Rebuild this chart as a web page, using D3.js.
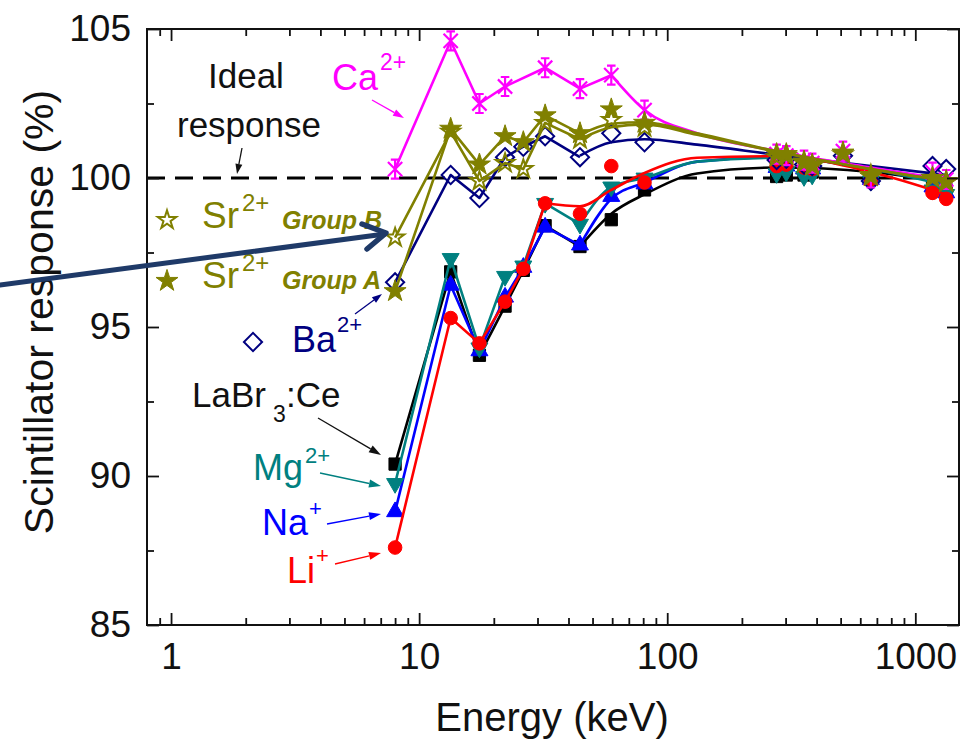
<!DOCTYPE html>
<html><head><meta charset="utf-8">
<script src="https://cdn.jsdelivr.net/npm/d3@7"></script>
<style>
body{margin:0;background:#fff}
svg{display:block}
text{font-family:"Liberation Sans",Arial,Helvetica,sans-serif}
</style>
</head><body>
<svg id="c" width="970" height="742"></svg>
<script>
// ---------- data ----------
const energiesLow = [8.0, 13.4, 17.5, 22.2, 26.3, 32.2, 44.5, 59.5, 81.0];
const energiesCa = [8.0, 13.4, 17.5, 22.2, 32.2, 44.5, 59.5, 81.0];
const energiesHigh = [276, 302, 356, 384, 511, 662, 1173, 1332];
const energiesHighNo511 = [276, 302, 356, 384, 662, 1173, 1332];
const fitEnergies = [44.5, 59.5, 81, 132, 276, 662, 1332];
const fitEnergiesCa = [59.5, 81, 132, 276, 662, 1332];
const fitEnergiesLi = [32.2, 44.5, 59.5, 81, 132, 276, 662, 1332];

const caLow  = [100.3, 104.6, 102.5, 103.07, 103.7, 103.0, 103.45, 102.28];
const caHigh = [100.8, 100.75, 100.6, 100.5, 100.9, 100.0, 100.2, 99.95];
const caFit  = [103.45, 102.28, 101.5, 100.9, 100.35, 99.95];

const srALow  = [96.2, 101.65, 100.45, 101.4, 101.2, 102.1, 101.5, 102.3, 101.85];
const srAHigh = [100.8, 100.8, 100.55, 100.45, 100.85, 100.05, 100.0, 99.85];
const srAFit  = [101.45, 101.82, 101.87, 101.5, 100.9, 100.3, 99.9];

const srBLow  = [98.0, 101.55, 99.9, 100.5, 100.3, 101.85, 101.3, 101.95, 101.7];
const srBHigh = [100.7, 100.75, 100.5, 100.4, 100.8, 100.1, 100.0, 99.9];
const srBFit  = [101.3, 101.7, 101.8, 101.45, 100.88, 100.3, 99.9];

const baLow  = [96.5, 100.1, 99.33, 100.7, 101.05, 101.4, 100.7, 101.5, 101.2];
const baHigh = [100.6, 100.65, 100.45, 100.4, 100.75, 99.9, 100.4, 100.3];
const baFit  = [100.75, 101.2, 101.3, 101.12, 100.78, 100.4, 100.1];

const labrLow  = [90.4, 96.85, 94.05, 95.7, 96.9, 98.4, 97.7, 98.6, 99.6];
const labrHigh = [100.05, 100.1, 100.1, 100.2, 100.0, 99.8, 99.6];
const labrFit  = [97.7, 98.8, 99.45, 100.15, 100.35, 100.2, 99.85];

const naLow  = [88.8, 96.4, 94.2, 96.0, 97.0, 98.35, 97.75, 99.38, 99.8];
const naHigh = [100.35, 100.4, 100.3, 100.3, 99.95, 99.7, 99.5];
const naFit  = [97.75, 99.3, 99.85, 100.55, 100.7, 100.3, 99.8];

const mgLow  = [89.75, 97.3, 94.3, 96.7, 97.05, 99.15, 98.45, 99.7, 100.0];
const mgHigh = [100.15, 100.2, 100.05, 100.1, 99.9, 99.6, 99.45];
const mgFit  = [98.45, 99.7, 100.0, 100.55, 100.68, 100.3, 99.75];

const liLow  = [87.6, 95.3, 94.45, 95.85, 96.95, 99.15, 98.8, 100.4, 99.85];
const liHigh = [100.4, 100.45, 100.35, 100.3, 99.95, 99.5, 99.3];
const liFit  = [99.15, 99.05, 99.6, 100.17, 100.68, 100.73, 100.2, 99.45];

const idealResponse = 100;
const xMajorTicks = [1, 10, 100, 1000];
const xMinorTicks = [0.9, 2,3,4,5,6,7,8,9, 20,30,40,50,60,70,80,90, 200,300,400,500,600,700,800,900];
const yMajorTicks = [85, 90, 95, 100, 105];
const yMinorTicks = [87.5, 92.5, 97.5, 102.5];

// ---------- layout ----------
const svg = d3.select("#c");
const L = 147, R = 959, T = 29, B = 625;
const x = d3.scaleLog().domain([0.8, 1500]).range([L, R]);
const y = d3.scaleLinear().domain([85, 105]).range([B, T]);

const C = {ca:"#ff00ff", sr:"#808000", ba:"#000080", labr:"#000000", na:"#0000ff", mg:"#008080", li:"#ff0000"};

// ideal response dashed line
svg.append("line")
  .attr("x1", L).attr("x2", R).attr("y1", y(idealResponse)).attr("y2", y(idealResponse))
  .attr("stroke", "#000").attr("stroke-width", 3).attr("stroke-dasharray", "18,10");

// symbol helpers
function symPath(type, size) {
  const m = {square:d3.symbolSquare, circle:d3.symbolCircle, triangle:d3.symbolTriangle, star:d3.symbolStar, diamond:d3.symbolSquare, tridown:d3.symbolTriangle};
  return d3.symbol().type(m[type]).size(size)();
}
function drawMarker(g, type, cx, cy, color) {
  if (type === "asterisk") {
    const r = 9.5;
    const p = `M0,${-r}L0,${r}M${-r*0.75},${-r*0.75}L${r*0.75},${r*0.75}M${-r*0.75},${r*0.75}L${r*0.75},${-r*0.75}M${-r*0.45},${-r}L${r*0.45},${-r}M${-r*0.45},${r}L${r*0.45},${r}`;
    g.append("path").attr("d", p).attr("transform", `translate(${cx},${cy})`)
      .attr("stroke", color).attr("stroke-width", 2.2).attr("fill", "none");
    return;
  }
  const sizes = {square:150, circle:145, triangle:125, tridown:125, star:150, ostar:105, diamond:165};
  const base = type === "ostar" ? "star" : type;
  let tr = `translate(${cx},${cy})`;
  if (type === "diamond") tr += " rotate(45)";
  if (type === "tridown") tr += " rotate(180)";
  const open = (type === "ostar" || type === "diamond");
  g.append("path").attr("d", symPath(base, sizes[type])).attr("transform", tr)
    .attr("fill", open ? "#fff" : color).attr("fill-opacity", open ? 0 : 1)
    .attr("stroke", color).attr("stroke-width", open ? 2 : 1);
}

const series = [
  {color:C.labr, sym:"square",  lowE:energiesLow, low:labrLow, highE:energiesHighNo511, high:labrHigh, fitE:fitEnergies, fit:labrFit},
  {color:C.na,   sym:"triangle",lowE:energiesLow, low:naLow,   highE:energiesHighNo511, high:naHigh,   fitE:fitEnergies, fit:naFit},
  {color:C.mg,   sym:"tridown", lowE:energiesLow, low:mgLow,   highE:energiesHighNo511, high:mgHigh,   fitE:fitEnergies, fit:mgFit},
  {color:C.li,   sym:"circle",  lowE:energiesLow, low:liLow,   highE:energiesHighNo511, high:liHigh,   fitE:fitEnergiesLi, fit:liFit},
  {color:C.ba,   sym:"diamond", lowE:energiesLow, low:baLow,   highE:energiesHigh, high:baHigh, fitE:fitEnergies, fit:baFit},
  {color:C.ca,   sym:"asterisk",lowE:energiesCa,  low:caLow,   highE:energiesHigh, high:caHigh, fitE:fitEnergiesCa, fit:caFit},
  {color:C.sr,   sym:"ostar",   lowE:energiesLow, low:srBLow,  highE:energiesHigh, high:srBHigh, fitE:fitEnergies, fit:srBFit},
  {color:C.sr,   sym:"star",    lowE:energiesLow, low:srALow,  highE:energiesHigh, high:srAHigh, fitE:fitEnergies, fit:srAFit}
];

const lineLin = d3.line().x(d => x(d[0])).y(d => y(d[1]));
const lineSmooth = d3.line().x(d => x(d[0])).y(d => y(d[1])).curve(d3.curveMonotoneX);

series.forEach(s => {
  const g = svg.append("g");
  const breakE = s.fitE[0];
  const seg = s.lowE.map((e, i) => [e, s.low[i]]).filter(d => d[0] <= breakE);
  g.append("path").attr("d", lineLin(seg)).attr("fill", "none")
    .attr("stroke", s.color).attr("stroke-width", 2.6).attr("stroke-linejoin", "round");
  const fit = s.fitE.map((e, i) => [e, s.fit[i]]);
  g.append("path").attr("d", lineSmooth(fit)).attr("fill", "none")
    .attr("stroke", s.color).attr("stroke-width", 2.6);
  s.lowE.forEach((e, i) => drawMarker(g, s.sym, x(e), y(s.low[i]), s.color));
  s.highE.forEach((e, i) => drawMarker(g, s.sym, x(e), y(s.high[i]), s.color));
});

// ---------- axes ----------
function styleAxis(g) {
  g.select(".domain").remove();
  g.selectAll(".tick line").attr("stroke", "#111").attr("stroke-width", 1.8);
  g.selectAll("text").attr("font-size", 37).attr("fill", "#111")
    .style("font-family", '"Liberation Sans",Arial,sans-serif');
}
svg.append("g").attr("transform", `translate(0,${B})`)
  .call(d3.axisBottom(x).tickValues(xMajorTicks).tickFormat(d3.format("d")).tickSize(-12).tickPadding(18)).call(styleAxis);
svg.append("g").attr("transform", `translate(0,${B})`)
  .call(d3.axisBottom(x).tickValues(xMinorTicks).tickFormat("").tickSize(-7)).call(styleAxis);
svg.append("g").attr("transform", `translate(0,${T})`)
  .call(d3.axisTop(x).tickValues(xMajorTicks).tickFormat("").tickSize(-12)).call(styleAxis);
svg.append("g").attr("transform", `translate(0,${T})`)
  .call(d3.axisTop(x).tickValues(xMinorTicks).tickFormat("").tickSize(-7)).call(styleAxis);
svg.append("g").attr("transform", `translate(${L},0)`)
  .call(d3.axisLeft(y).tickValues(yMajorTicks).tickFormat(d3.format("d")).tickSize(-12).tickPadding(16)).call(styleAxis);
svg.append("g").attr("transform", `translate(${L},0)`)
  .call(d3.axisLeft(y).tickValues(yMinorTicks).tickFormat("").tickSize(-7)).call(styleAxis);
svg.append("g").attr("transform", `translate(${R},0)`)
  .call(d3.axisRight(y).tickValues(yMajorTicks).tickFormat("").tickSize(-12)).call(styleAxis);
svg.append("g").attr("transform", `translate(${R},0)`)
  .call(d3.axisRight(y).tickValues(yMinorTicks).tickFormat("").tickSize(-7)).call(styleAxis);

svg.append("rect").attr("x", L).attr("y", T).attr("width", R - L).attr("height", B - T)
  .attr("fill", "none").attr("stroke", "#111").attr("stroke-width", 2);

// axis titles
svg.append("text").attr("transform", "translate(53,312) rotate(-90)")
  .attr("text-anchor", "middle").attr("font-size", 41).attr("fill", "#111").text("Scintillator response (%)");
svg.append("text").attr("x", 552).attr("y", 731)
  .attr("text-anchor", "middle").attr("font-size", 40).attr("fill", "#111").text("Energy (keV)");

// ---------- annotations ----------
function txt(xp, yp, s, size, color, extra) {
  const t = svg.append("text").attr("x", xp).attr("y", yp).attr("font-size", size).attr("fill", color).text(s);
  if (extra) extra(t);
  return t;
}
function arrow(x1, y1, x2, y2, color, w, hl, hw) {
  const a = Math.atan2(y2 - y1, x2 - x1);
  const bx = x2 - hl * Math.cos(a), by = y2 - hl * Math.sin(a);
  svg.append("line").attr("x1", x1).attr("y1", y1).attr("x2", bx).attr("y2", by)
    .attr("stroke", color).attr("stroke-width", w);
  const px = -Math.sin(a) * hw / 2, py = Math.cos(a) * hw / 2;
  svg.append("path").attr("d", `M${x2},${y2}L${bx + px},${by + py}L${bx - px},${by - py}Z`).attr("fill", color);
}

txt(208, 88, "Ideal", 35, "#111");
txt(177, 137, "response", 35, "#111");
arrow(242, 148, 237, 174, "#111", 1.3, 10, 7);

txt(332, 90, "Ca", 36, C.ca);
txt(380, 70, "2+", 23, C.ca);
arrow(372, 100, 404, 118, C.ca, 1.3, 11, 7);

drawMarker(svg, "ostar", 167, 220, C.sr);
txt(202, 228, "Sr", 37, C.sr);
txt(242, 211, "2+", 24, C.sr);
txt(282, 229, "Group B", 25, C.sr, t => t.attr("font-weight", "bold").attr("font-style", "italic"));

drawMarker(svg, "star", 167, 281, C.sr);
txt(202, 288, "Sr", 37, C.sr);
txt(242, 271, "2+", 24, C.sr);
txt(282, 289, "Group A", 25, C.sr, t => t.attr("font-weight", "bold").attr("font-style", "italic"));

drawMarker(svg, "diamond", 253, 342, C.ba);
txt(292, 352, "Ba", 36, C.ba);
txt(337, 332, "2+", 22, C.ba);
arrow(355, 314, 382, 294, C.ba, 1.3, 10, 7);

txt(192, 407, "LaBr", 35, "#111");
txt(273, 422, "3", 23, "#111");
txt(286, 407, ":Ce", 35, "#111");
arrow(318, 418, 381, 455, "#111", 1.3, 12, 8);

txt(253, 480, "Mg", 36, C.mg);
txt(305, 463, "2+", 22, C.mg);
arrow(320, 473, 381, 486, C.mg, 1.3, 12, 8);

txt(262, 535, "Na", 36, C.na);
txt(309, 516, "+", 22, C.na);
arrow(327, 524, 381, 514, C.na, 1.3, 12, 8);

txt(287, 583, "Li", 36, C.li);
txt(316, 563, "+", 22, C.li);
arrow(335, 564, 381, 553, C.li, 1.3, 12, 8);

// long navy arrow
const navy = "#1f3a68";
svg.append("path").attr("d", "M0,285L385,234").attr("stroke", navy).attr("stroke-width", 5).attr("fill", "none").attr("stroke-linecap", "round");
svg.append("path").attr("d", "M362,224L386,233L367,249").attr("stroke", navy).attr("stroke-width", 5.5)
  .attr("fill", "none").attr("stroke-linecap", "round").attr("stroke-linejoin", "round");
</script>
</body></html>
